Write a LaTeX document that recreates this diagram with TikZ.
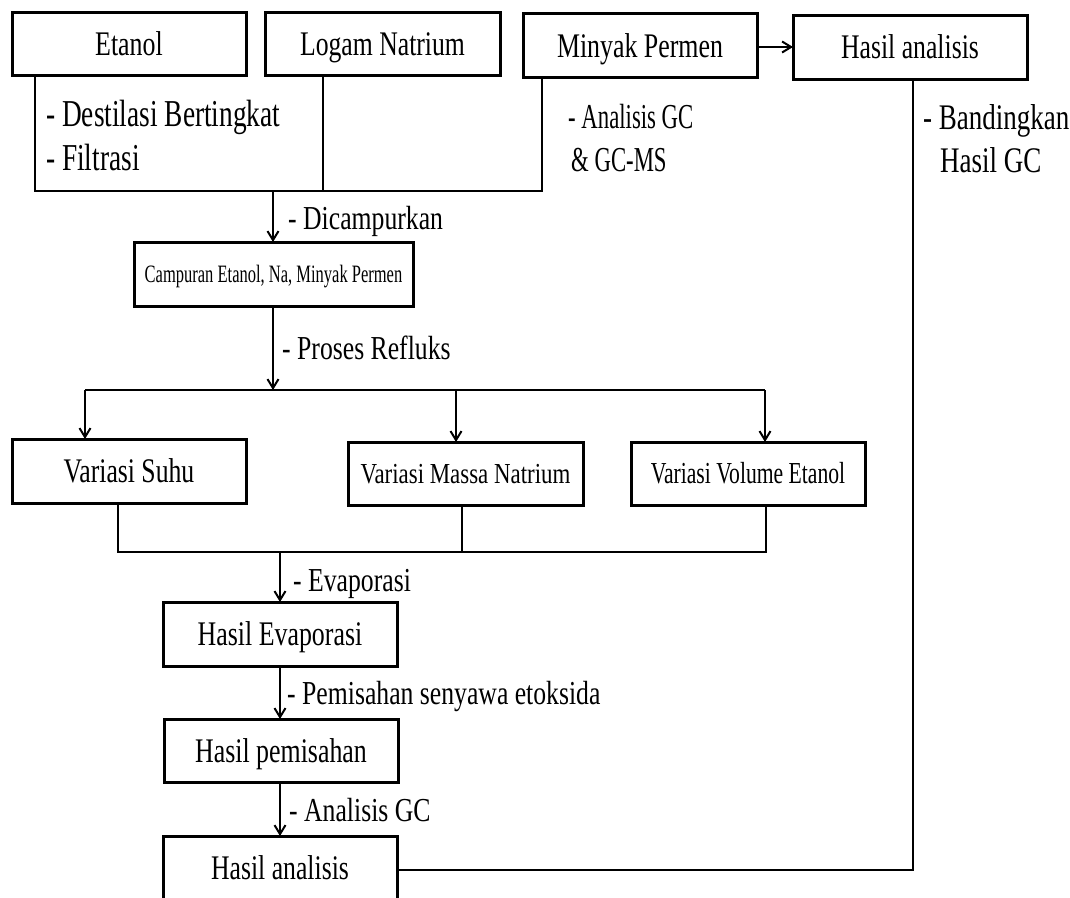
\documentclass[tikz,border=0pt]{standalone}
\usepackage{fontspec}
\usepackage{graphicx}
\setmainfont{Liberation Serif}
\usetikzlibrary{arrows.meta}
\newcommand\sq[2]{\scalebox{#1}[1]{#2}}
\tikzset{
  box/.style={draw, line width=3pt, minimum width=234pt, minimum height=63pt, inner sep=0pt, outer sep=0pt,
    font=\fontsize{34.5}{40}\selectfont, text height=23pt, text depth=0pt},
  conn/.style={line width=2.8pt},
  arr/.style={line width=2.8pt, -{Straight Barb[length=9pt,width=11pt,line width=2pt]}},
  lbl/.style={anchor=west, inner sep=0pt, font=\fontsize{33.5}{40}\selectfont, text height=22pt, text depth=0pt}
}
\begin{document}
\begin{tikzpicture}[x=1pt,y=-1pt]
\useasboundingbox (0,0) rectangle (1070,897);
\clip (0,0) rectangle (1070,897);
% boxes
\node[box] (etanol) at (129,44) {\sq{0.75}{Etanol}};
\node[box, minimum width=235pt] (logam) at (382.5,44) {\sq{0.745}{Logam Natrium}};
\node[box, minimum height=64pt] (minyak) at (640,45.5) {\sq{0.75}{Minyak Permen}};
\node[box, minimum height=64pt] (hasilA) at (910,47) {\sq{0.745}{Hasil analisis}};
\node[box, minimum width=279pt, minimum height=64pt, font=\fontsize{25}{30}\selectfont, text height=16.5pt] (campur) at (273.5,274) {\sq{0.66}{Campuran Etanol, Na, Minyak Permen}};
\node[box, minimum height=64pt] (suhu) at (129,471) {\sq{0.745}{Variasi Suhu}};
\node[box, minimum width=235pt, font=\fontsize{29}{34}\selectfont, text height=19pt] (massa) at (465.5,473.5) {\sq{0.79}{Variasi Massa Natrium}};
\node[box, font=\fontsize{30.5}{36}\selectfont, text height=20pt] (volume) at (748,473.5) {\sq{0.71}{Variasi Volume Etanol}};
\node[box, minimum height=64pt] (evap) at (280,634) {\sq{0.75}{Hasil Evaporasi}};
\node[box] (pisah) at (281,750.5) {\sq{0.75}{Hasil pemisahan}};
\node[box] (hasilB) at (280,867.5) {\sq{0.745}{Hasil analisis}};
% junction coordinates
\coordinate (jL) at (35,191);
\coordinate (jM) at (323,191);
\coordinate (jR) at (542,191);
\coordinate (jC) at (273,191);
\coordinate (s1) at (85,390);
\coordinate (s2) at (456,390);
\coordinate (s3) at (765,390);
\coordinate (m1) at (118,552);
\coordinate (m2) at (462,552);
\coordinate (m3) at (766,552);
\coordinate (mE) at (280,552);
\coordinate (rc) at (913,870);
% connectors
\draw[conn] (etanol.south -| jL) -- (jL) -- (jR) -- (minyak.south -| jR);
\draw[conn] (logam.south -| jM) -- (jM);
\draw[arr] (jC) -- (campur.north -| jC);
\draw[arr] (campur.south -| jC) -- (jC |- s1);
\draw[conn] (s1) -- (s3);
\draw[arr] (s1) -- (suhu.north -| s1);
\draw[arr] (s2) -- (massa.north -| s2);
\draw[arr] (s3) -- (volume.north -| s3);
\draw[conn] (suhu.south -| m1) -- (m1) -- (m3) -- (volume.south -| m3);
\draw[conn] (massa.south -| m2) -- (m2);
\draw[arr] (mE) -- (evap.north);
\draw[arr] (evap.south) -- (pisah.north -| evap.south);
\draw[arr] (pisah.south -| evap.south) -- (hasilB.north);
\draw[conn] (hasilB.east |- rc) -- (rc) -- (hasilA.south -| rc);
\draw[arr] (minyak.east |- 0,47) -- (hasilA.west |- 0,47);
% labels
\node[lbl, font=\fontsize{38}{44}\selectfont, text height=25pt] (lDest1) at (46,114) {\sq{0.72}{- Destilasi Bertingkat}};
\node[lbl, font=\fontsize{38}{44}\selectfont, text height=25pt] (lDest2) at (46,158) {\sq{0.72}{- Filtrasi}};
\node[lbl, font=\fontsize{35}{42}\selectfont, text height=23pt] (lGC1) at (568,117) {\sq{0.65}{- Analisis GC}};
\node[lbl, font=\fontsize{35}{42}\selectfont, text height=23pt] (lGC2) at (571,160) {\sq{0.65}{\& GC-MS}};
\node[lbl, font=\fontsize{36}{42}\selectfont, text height=24pt] (lBand1) at (923,117) {\sq{0.75}{- Bandingkan}};
\node[lbl, font=\fontsize{36}{42}\selectfont, text height=24pt] (lBand2) at (940,160) {\sq{0.75}{Hasil GC}};
\node[lbl] (lCamp) at (288,218) {\sq{0.767}{- Dicampurkan}};
\node[lbl] (lRef) at (282,348) {\sq{0.767}{- Proses Refluks}};
\node[lbl] (lEvap) at (293,580) {\sq{0.767}{- Evaporasi}};
\node[lbl] (lPis) at (287,693) {\sq{0.767}{- Pemisahan senyawa etoksida}};
\node[lbl] (lAn) at (289,810) {\sq{0.767}{- Analisis GC}};
\end{tikzpicture}
\end{document}
